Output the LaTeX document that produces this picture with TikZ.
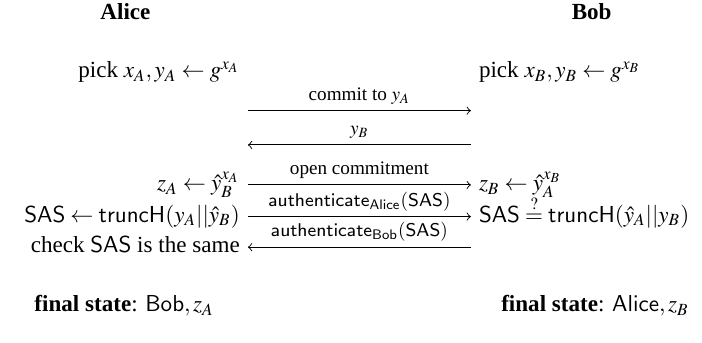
\documentclass[tikz,border=0pt]{standalone}
\usepackage{mathptmx}
\usepackage{amsmath}
\usepackage[no-math]{fontspec}
\setmainfont{Liberation Serif}
\tikzset{msg/.style={->, thin},
         lbl/.style={anchor=base, yshift=4.5pt, inner sep=0pt, font=\fontsize{8.3pt}{10pt}\selectfont},
         lcol/.style={anchor=base east, yshift=-2.5pt},
         rcol/.style={anchor=base west, yshift=-2.5pt},
         party/.style={anchor=base, font=\bfseries}}

\begin{document}
\begin{tikzpicture}
        \useasboundingbox(0,0)rectangle(10.69,-5.22);
        \node[party](alice)at(1.91,-0.297){Alice};
        \node[party](bob)at(9.01,-0.297){Bob};

        \coordinate(a0)at(3.775,-1.096);
        \coordinate(b0)at(7.17,-1.096);
        \node[lcol](pickA)at(a0){pick $x_A, y_A \leftarrow g^{x_A}$};
        \node[rcol](pickB)at(b0){pick $x_B, y_B \leftarrow g^{x_B}$};

        \coordinate(a1)at(3.775,-1.685);
        \coordinate(b1)at(7.17,-1.685);
        \draw[msg](a1)--(b1)node[lbl,midway]{commit to $y_A$};

        \coordinate(a2)at(3.775,-2.207);
        \coordinate(b2)at(7.17,-2.207);
        \draw[msg](b2)--(a2)node[lbl,midway]{$y_B$};

        \coordinate(a3)at(3.775,-2.816);
        \coordinate(b3)at(7.17,-2.816);
        \node[lcol](zA)at(a3){$z_A \leftarrow \hat{y}_B^{x_A}$};
        \node[rcol](zB)at(b3){$z_B \leftarrow \hat{y}_A^{x_B}$};
        \draw[msg](a3)--(b3)node[lbl,midway]{open commitment};

        \coordinate(a4)at(3.775,-3.298);
        \coordinate(b4)at(7.17,-3.298);
        \node[lcol](sasA)at(a4){$\mathsf{SAS} \leftarrow \mathsf{truncH}(y_A||\hat{y}_B)$};
        \node[rcol](sasB)at(b4){$\mathsf{SAS} \stackrel{?}{=} \mathsf{truncH}(\hat{y}_A||y_B)$};
        \draw[msg](a4)--(b4)node[lbl,midway]{$\mathsf{authenticate}_{\mathsf{Alice}}(\mathsf{SAS})$};

        \coordinate(a5)at(3.775,-3.764);
        \coordinate(b5)at(7.17,-3.764);
        \node[lcol](check)at(a5){check $\mathsf{SAS}$ is the same};
        \draw[msg](b5)--(a5)node[lbl,midway]{$\mathsf{authenticate}_{\mathsf{Bob}}(\mathsf{SAS})$};

        \node[anchor=base](finA)at(1.89,-4.744){\textbf{final state}: $\mathsf{Bob}, z_A$};
        \node[anchor=base](finB)at(9.06,-4.744){\textbf{final state}: $\mathsf{Alice}, z_B$};
    \end{tikzpicture}
\end{document}
